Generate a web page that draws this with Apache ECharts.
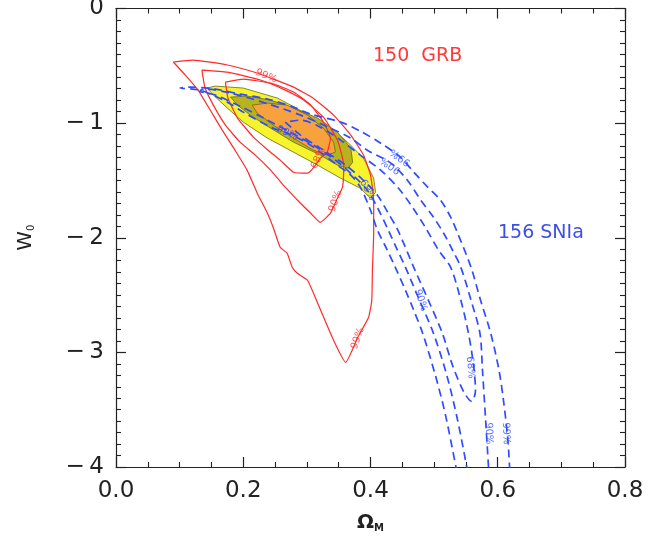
<!DOCTYPE html>
<html><head><meta charset="utf-8">
<script src="https://cdn.jsdelivr.net/npm/echarts@6/dist/echarts.min.js"></script>
<style>html,body{margin:0;padding:0;background:#fff}#c{width:654px;height:541px}</style>
</head><body><div id="c"></div>
<script>
// ---- tick labels ----
const xTickLabels = ['0.0','0.2','0.4','0.6','0.8'];
const yTickLabels = ['\u2212\u20094','\u2212\u20093','\u2212\u20092','\u2212\u20091','0'];

// ---- GRB contours (solid red) ----
const grb99 = [[0.090,-0.467],[0.121,-0.450],[0.175,-0.493],[0.222,-0.563],[0.243,-0.607],[0.279,-0.686],[0.310,-0.782],[0.342,-0.930],[0.369,-1.105],[0.389,-1.279],[0.400,-1.454],[0.405,-1.672],[0.405,-1.961],[0.403,-2.284],[0.402,-2.546],[0.397,-2.694],[0.380,-2.869],[0.361,-3.087],[0.342,-2.895],[0.317,-2.572],[0.301,-2.371],[0.285,-2.310],[0.277,-2.258],[0.269,-2.135],[0.258,-2.083],[0.247,-1.908],[0.238,-1.786],[0.222,-1.611],[0.206,-1.410],[0.187,-1.236],[0.167,-1.061],[0.148,-0.886],[0.129,-0.712],[0.109,-0.581],[0.090,-0.467]];
const grb90 = [[0.135,-0.537],[0.175,-0.555],[0.227,-0.624],[0.266,-0.712],[0.295,-0.799],[0.326,-0.948],[0.348,-1.148],[0.358,-1.367],[0.356,-1.559],[0.348,-1.655],[0.337,-1.786],[0.321,-1.865],[0.306,-1.786],[0.290,-1.699],[0.263,-1.541],[0.243,-1.410],[0.219,-1.279],[0.195,-1.166],[0.172,-1.017],[0.153,-0.843],[0.140,-0.694],[0.135,-0.537]];
const grb68 = [[0.172,-0.642],[0.200,-0.616],[0.243,-0.651],[0.279,-0.729],[0.306,-0.843],[0.326,-0.991],[0.337,-1.131],[0.332,-1.253],[0.321,-1.306],[0.310,-1.393],[0.301,-1.437],[0.279,-1.428],[0.258,-1.323],[0.239,-1.236],[0.216,-1.122],[0.191,-0.956],[0.176,-0.782],[0.172,-0.642]];

// ---- combined regions (filled) ----
const comb99 = [[0.143,-0.694],[0.156,-0.677],[0.200,-0.694],[0.254,-0.782],[0.295,-0.904],[0.332,-1.017],[0.364,-1.166],[0.389,-1.306],[0.405,-1.480],[0.408,-1.603],[0.400,-1.655],[0.384,-1.568],[0.353,-1.480],[0.317,-1.367],[0.279,-1.253],[0.238,-1.131],[0.200,-0.991],[0.175,-0.869],[0.153,-0.755]];
const comb90 = [[0.180,-0.773],[0.206,-0.764],[0.243,-0.799],[0.279,-0.869],[0.317,-0.956],[0.348,-1.079],[0.369,-1.218],[0.372,-1.341],[0.365,-1.393],[0.348,-1.367],[0.321,-1.279],[0.279,-1.166],[0.243,-1.044],[0.211,-0.930],[0.191,-0.843]];
const comb68 = [[0.214,-0.843],[0.238,-0.825],[0.269,-0.843],[0.301,-0.930],[0.326,-1.044],[0.342,-1.166],[0.345,-1.253],[0.332,-1.279],[0.310,-1.236],[0.279,-1.131],[0.247,-1.017],[0.222,-0.913]];

// ---- SNIa contours (dashed blue) ----
const snia99 = [[0.536,-4.05],[0.518,-3.550],[0.502,-3.201],[0.482,-2.834],[0.468,-2.633],[0.455,-2.459],[0.439,-2.258],[0.425,-2.092],[0.411,-1.934],[0.400,-1.760],[0.384,-1.559],[0.369,-1.454],[0.348,-1.367],[0.321,-1.253],[0.301,-1.175],[0.269,-1.087],[0.243,-1.035],[0.200,-0.904],[0.175,-0.817],[0.132,-0.712],[0.101,-0.694],[0.117,-0.686],[0.156,-0.703],[0.195,-0.747],[0.238,-0.790],[0.279,-0.860],[0.306,-0.921],[0.353,-0.991],[0.384,-1.070],[0.416,-1.175],[0.447,-1.297],[0.468,-1.428],[0.490,-1.559],[0.510,-1.672],[0.526,-1.821],[0.537,-1.961],[0.558,-2.258],[0.573,-2.546],[0.589,-2.834],[0.602,-3.157],[0.609,-3.419],[0.616,-3.769],[0.619,-4.05]];
const snia90 = [[0.553,-4.05],[0.537,-3.594],[0.520,-3.201],[0.499,-2.834],[0.477,-2.546],[0.455,-2.258],[0.441,-2.092],[0.428,-1.934],[0.413,-1.760],[0.395,-1.585],[0.372,-1.454],[0.345,-1.323],[0.313,-1.201],[0.274,-1.079],[0.235,-0.965],[0.195,-0.852],[0.156,-0.755],[0.132,-0.721],[0.140,-0.703],[0.180,-0.738],[0.235,-0.825],[0.290,-0.930],[0.337,-1.044],[0.369,-1.131],[0.395,-1.236],[0.432,-1.349],[0.458,-1.498],[0.479,-1.672],[0.499,-1.821],[0.515,-1.961],[0.529,-2.109],[0.542,-2.258],[0.558,-2.546],[0.572,-2.834],[0.576,-3.157],[0.581,-3.594],[0.586,-4.05]];
const snia68 = [[0.266,-0.991],[0.290,-1.105],[0.321,-1.218],[0.361,-1.367],[0.392,-1.515],[0.411,-1.629],[0.427,-1.777],[0.443,-1.934],[0.468,-2.258],[0.491,-2.546],[0.513,-2.834],[0.529,-3.114],[0.547,-3.349],[0.559,-3.428],[0.565,-3.332],[0.562,-3.114],[0.554,-2.834],[0.542,-2.546],[0.526,-2.258],[0.507,-2.109],[0.487,-1.917],[0.466,-1.734],[0.444,-1.568],[0.416,-1.410],[0.384,-1.279],[0.353,-1.148],[0.321,-1.035],[0.290,-0.974],[0.266,-0.991]];

// ---- contour labels ----
const redLabelPts = [[0.236,-0.590],[0.345,-1.681],[0.318,-1.306],[0.380,-2.878]];
const redLabelTxt = ['99%','90%','68%','99%'];
const redLabelRot = [-22,70,65,70];
const blueLabelPts = [[0.447,-1.297],[0.4315,-1.367],[0.269,-1.087],[0.395,-1.585],[0.479,-2.546],[0.557,-3.131],[0.586,-3.707],[0.613,-3.707]];
const blueLabelTxt = ['99%','90%','99%','68%','90%','68%','90%','99%'];
const blueLabelRot = [145,145,-25,-62,-72,-85,-88,-88];

const RED = '#ff2a2a', BLUE = '#2f4cff';
const FONT = 'DejaVu Sans';

function poly(pts, fill) {
  return {
    type: 'custom', z: 1, silent: true,
    data: [pts[0]],
    renderItem: function (params, api) {
      return { type: 'polygon',
        shape: { points: pts.map(p => api.coord(p)) },
        style: { fill: fill, stroke: '#6f6a12', lineWidth: 0.8 } };
    }
  };
}
function solid(pts) {
  return { type: 'line', data: pts, symbol: 'none', smooth: 0.15, z: 3, silent: true,
    lineStyle: { color: RED, width: 1.2 } };
}
function dashed(pts) {
  return { type: 'line', data: pts, symbol: 'none', smooth: 0.3, z: 4, silent: true,
    lineStyle: { color: BLUE, width: 1.7, type: [8, 5] } };
}
function labels(pts, txt, rot, color) {
  return { type: 'scatter', symbolSize: 0, z: 5, silent: true,
    data: pts.map((p, i) => ({ value: p, label: { show: true, formatter: txt[i], rotate: rot[i],
      position: 'inside', color: color, fontSize: 10, fontFamily: FONT } })) };
}

const axisCommon = {
  type: 'value', splitLine: { show: false },
  axisLine: { show: true, onZero: false, lineStyle: { color: '#222', width: 1.2 } },
  axisTick: { show: true, inside: true, length: 10, lineStyle: { color: '#222', width: 1.2 } },
  minorTick: { show: true, length: 5, lineStyle: { color: '#222', width: 1.1 } },
  minorSplitLine: { show: false }
};

const chart = echarts.init(document.getElementById('c'));
chart.setOption({
  animation: false,
  backgroundColor: '#fff',
  grid: { left: 116, right: 29, top: 8.5, bottom: 74, containLabel: false, outerBoundsMode: 'none' },
  xAxis: [
    Object.assign({}, axisCommon, { position: 'bottom', min: 0, max: 0.8, interval: 0.2,
      minorTick: Object.assign({}, axisCommon.minorTick, { splitNumber: 4 }),
      axisLabel: { margin: 13, fontSize: 23, color: '#222', fontFamily: FONT,
        formatter: v => xTickLabels[Math.round(v / 0.2)] },
      name: '{a|\u03A9}{b|M}', nameLocation: 'middle', nameGap: 42,
      nameTextStyle: { rich: {
        a: { fontSize: 20, fontWeight: 'bold', color: '#222', fontFamily: FONT, lineHeight: 24, verticalAlign: 'bottom' },
        b: { fontSize: 10, fontWeight: 'bold', color: '#222', fontFamily: FONT, lineHeight: 12, verticalAlign: 'bottom' } } } }),
    Object.assign({}, axisCommon, { position: 'top', min: 0, max: 0.8, interval: 0.2,
      minorTick: Object.assign({}, axisCommon.minorTick, { splitNumber: 4 }),
      axisLabel: { show: false } })
  ],
  yAxis: [
    Object.assign({}, axisCommon, { position: 'left', min: -4, max: 0, interval: 1,
      minorTick: Object.assign({}, axisCommon.minorTick, { splitNumber: 10 }),
      axisLabel: { margin: 12, fontSize: 23, color: '#222', fontFamily: FONT,
        formatter: v => yTickLabels[Math.round(v) + 4] },
      name: '{a|W}{b|0}', nameLocation: 'middle', nameGap: 80, nameRotate: 90,
      nameTextStyle: { rich: {
        a: { fontSize: 20, color: '#222', fontFamily: FONT, lineHeight: 24, verticalAlign: 'bottom' },
        b: { fontSize: 10, color: '#222', fontFamily: FONT, lineHeight: 12, verticalAlign: 'bottom' } } } }),
    Object.assign({}, axisCommon, { position: 'right', min: -4, max: 0, interval: 1,
      minorTick: Object.assign({}, axisCommon.minorTick, { splitNumber: 10 }),
      axisLabel: { show: false } })
  ],
  graphic: [
    { type: 'text', left: 373, top: 47, style: { text: '150  GRB', fill: '#ff3a3a', fontSize: 19, fontFamily: FONT } },
    { type: 'text', left: 498, top: 224, style: { text: '156 SNIa', fill: '#3d4fe6', fontSize: 19, fontFamily: FONT } }
  ],
  series: [
    poly(comb99, '#f6f42c'),
    poly(comb90, '#b8b21c'),
    poly(comb68, '#f8a23e'),
    solid(grb99), solid(grb90), solid(grb68),
    dashed(snia99), dashed(snia90), dashed(snia68),
    labels(redLabelPts, redLabelTxt, redLabelRot, RED),
    labels(blueLabelPts, blueLabelTxt, blueLabelRot, BLUE)
  ]
});
</script>
</body></html>
